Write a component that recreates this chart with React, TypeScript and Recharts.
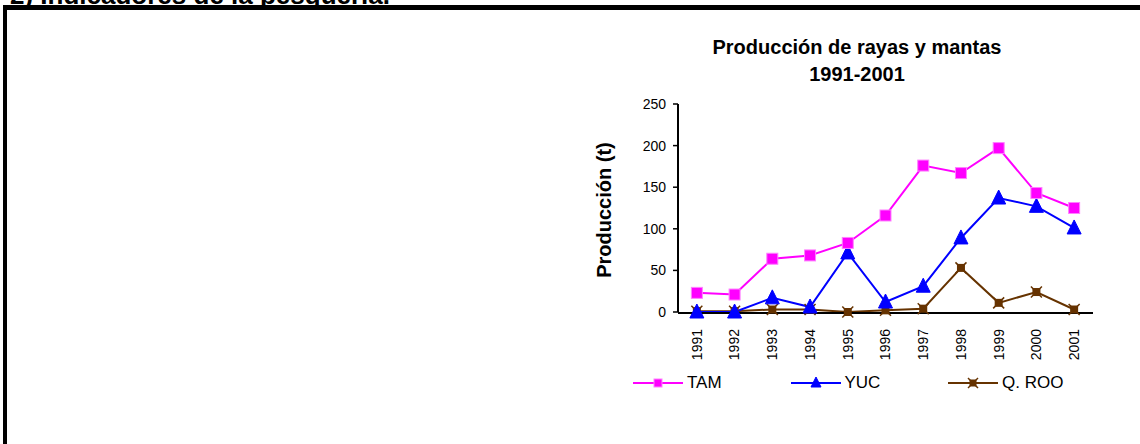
import { Line, LineChart, XAxis, YAxis } from "recharts";

const years = ["1991", "1992", "1993", "1994", "1995", "1996", "1997", "1998", "1999", "2000", "2001"];
const tam = [23, 21, 64, 68, 83, 116, 176, 167, 197, 143, 125];
const yuc = [0, 0, 17, 6, 71, 12, 31, 89, 137, 127, 101];
const qroo = [1, 1, 3, 3, 0, 2, 4, 53, 11, 24, 3];
const yTicks = [0, 50, 100, 150, 200, 250];

const FONT = '"Liberation Sans", Arial, sans-serif';

const rows = years.map((year, i) => ({
  x: i + 0.5,
  year,
  tam: tam[i],
  yuc: yuc[i],
  qroo: qroo[i],
}));
const labelTicks = years.map((_, i) => i + 0.5);
const edgeTicks = [...years.map((_, i) => i), years.length];

type DotProps = { cx?: number; cy?: number; index?: number };

function SquareMark({ cx = 0, cy = 0, size = 11 }: { cx?: number; cy?: number; size?: number }) {
  const h = size / 2;
  return (
    <g>
      <rect x={cx - h} y={cy - h} width={size} height={size} fill="#FF00FF" stroke="#FF80FF" strokeWidth={1} />
    </g>
  );
}

function TriangleMark({ cx = 0, cy = 0, size = 14 }: { cx?: number; cy?: number; size?: number }) {
  const h = size / 2;
  return (
    <polygon
      points={`${cx},${cy - h - 1} ${cx - h},${cy + h - 1} ${cx + h},${cy + h - 1}`}
      fill="#0000FF"
      stroke="#0000FF"
      strokeWidth={1}
    />
  );
}

function StarMark({ cx = 0, cy = 0, size = 8 }: { cx?: number; cy?: number; size?: number }) {
  const h = size / 2;
  const k = h + 1.5;
  return (
    <g>
      <rect x={cx - h} y={cy - h} width={size} height={size} fill="#663300" />
      <line x1={cx - k} y1={cy - k} x2={cx + k} y2={cy + k} stroke="#663300" strokeWidth={1.5} />
      <line x1={cx - k} y1={cy + k} x2={cx + k} y2={cy - k} stroke="#663300" strokeWidth={1.5} />
    </g>
  );
}

function YearTick(props: { x?: number; y?: number; payload?: { value: number } }) {
  const { x = 0, y = 0, payload } = props;
  const label = years[Math.floor(payload?.value ?? 0)];
  return (
    <text
      x={x}
      y={y + 8}
      dy="0.35em"
      transform={`rotate(-90 ${x} ${y + 8})`}
      textAnchor="end"
      fontSize={14}
      fontFamily={FONT}
      fill="#000"
    >
      {label}
    </text>
  );
}

const legendItems = [
  { name: "TAM", color: "#FF00FF", Mark: SquareMark, size: 8 },
  { name: "YUC", color: "#0000FF", Mark: TriangleMark, size: 10 },
  { name: "Q. ROO", color: "#663300", Mark: StarMark, size: 7 },
];

export default function App() {
  return (
    <div
      style={{
        position: "fixed",
        left: 0,
        top: 0,
        width: 1140,
        height: 444,
        background: "#fff",
        overflow: "hidden",
        fontFamily: FONT,
      }}
    >
      <div
        style={{
          position: "absolute",
          left: 10,
          top: -18,
          fontSize: 26,
          lineHeight: "26px",
          fontWeight: "bold",
          whiteSpace: "nowrap",
        }}
      >
        2) Indicadores de la pesquería.
      </div>
      <div style={{ position: "absolute", left: 3, top: 5, width: 1137, height: 5, background: "#000" }} />
      <div style={{ position: "absolute", left: 3, top: 5, width: 4, height: 439, background: "#000" }} />

      <div
        style={{
          position: "absolute",
          left: 657,
          top: 34,
          width: 400,
          textAlign: "center",
          fontSize: 20,
          lineHeight: "27px",
          fontWeight: "bold",
        }}
      >
        Producción de rayas y mantas
        <br />
        1991-2001
      </div>

      <div
        style={{
          position: "absolute",
          left: 504,
          top: 198,
          width: 200,
          height: 24,
          lineHeight: "24px",
          textAlign: "center",
          fontSize: 20,
          fontWeight: "bold",
          transform: "rotate(-90deg)",
          whiteSpace: "nowrap",
        }}
      >
        Producción (t)
      </div>

      <div style={{ position: "absolute", left: 0, top: 0 }}>
        <LineChart
          width={1140}
          height={444}
          data={rows}
          margin={{ top: 104, right: 47, bottom: 91, left: 608 }}
        >
          <XAxis
            xAxisId="edge"
            dataKey="x"
            type="number"
            domain={[0, years.length]}
            ticks={edgeTicks}
            tick={false}
            tickLine={{ stroke: "#000", strokeWidth: 1.5 }}
            tickSize={5}
            axisLine={false}
            height={1}
            interval={0}
          />
          <XAxis
            xAxisId="lab"
            dataKey="x"
            type="number"
            domain={[0, years.length]}
            ticks={labelTicks}
            tick={<YearTick />}
            tickLine={false}
            axisLine={{ stroke: "#000", strokeWidth: 2 }}
            height={40}
            interval={0}
          />
          <YAxis
            domain={[0, 250]}
            ticks={yTicks}
            width={70}
            interval={0}
            tick={{ fontSize: 14, fill: "#000", fontFamily: FONT }}
            tickLine={{ stroke: "#000", strokeWidth: 1.5 }}
            tickSize={5}
            tickMargin={7}
            axisLine={{ stroke: "#000", strokeWidth: 2 }}
          />
          <Line
            xAxisId="lab"
            dataKey="qroo"
            stroke="#663300"
            strokeWidth={2}
            isAnimationActive={false}
            dot={(p: DotProps) => <StarMark key={`q-${p.index}`} cx={p.cx} cy={p.cy} />}
          />
          <Line
            xAxisId="lab"
            dataKey="yuc"
            stroke="#0000FF"
            strokeWidth={2}
            isAnimationActive={false}
            dot={(p: DotProps) => <TriangleMark key={`y-${p.index}`} cx={p.cx} cy={p.cy} />}
          />
          <Line
            xAxisId="lab"
            dataKey="tam"
            stroke="#FF00FF"
            strokeWidth={2}
            isAnimationActive={false}
            dot={(p: DotProps) => <SquareMark key={`t-${p.index}`} cx={p.cx} cy={p.cy} />}
          />
        </LineChart>
      </div>

      <div style={{ position: "absolute", left: 633, top: 372, display: "flex" }}>
        {legendItems.map(({ name, color, Mark, size }) => (
          <div key={name} style={{ width: 157.5, display: "flex", alignItems: "center", height: 22 }}>
            <svg width={50} height={22}>
              <line x1={0} y1={11} x2={50} y2={11} stroke={color} strokeWidth={2} />
              <Mark cx={25} cy={11} size={size} />
            </svg>
            <span style={{ marginLeft: 4, fontSize: 17, lineHeight: "22px" }}>{name}</span>
          </div>
        ))}
      </div>
    </div>
  );
}
